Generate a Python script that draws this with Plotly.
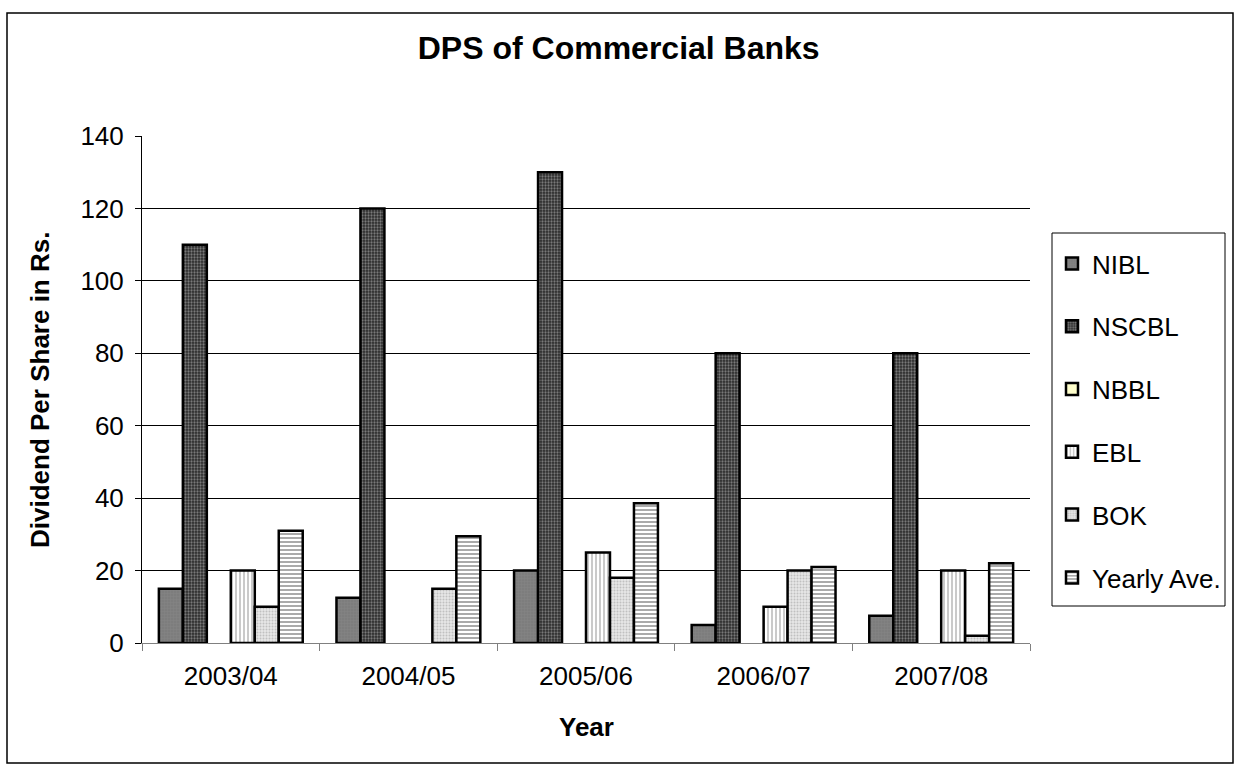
import plotly.graph_objects as go

years = ["2003/04", "2004/05", "2005/06", "2006/07", "2007/08"]
nibl = [15, 12.5, 20, 5, 7.5]
nscbl = [110, 120, 130, 80, 80]
nbbl = [0, 0, 0, 0, 0]
ebl = [20, 0, 25, 10, 20]
bok = [10, 15, 18, 20, 2]
yearly_ave = [31, 29.5, 38.6, 21, 22]
y_ticks = [0, 20, 40, 60, 80, 100, 120, 140]

FONT = "Liberation Sans, Arial, sans-serif"

series = [
    ("NIBL", nibl, dict(color="#808080", pattern=dict(shape=".", bgcolor="#7a7a7a", fgcolor="#8c8c8c", size=3, solidity=0.5))),
    ("NSCBL", nscbl, dict(color="#333333", pattern=dict(shape=".", bgcolor="#2a2a2a", fgcolor="#c8c8c8", size=3, solidity=0.45))),
    ("NBBL", nbbl, dict(color="#FFFFCC")),
    ("EBL", ebl, dict(color="#ffffff", pattern=dict(shape="|", bgcolor="#ffffff", fgcolor="#8a8a8a", size=4, solidity=0.45))),
    ("BOK", bok, dict(color="#d8d8d8", pattern=dict(shape=".", bgcolor="#e6e6e6", fgcolor="#9a9a9a", size=3, solidity=0.35))),
    ("Yearly Ave.", yearly_ave, dict(color="#ffffff", pattern=dict(shape="-", bgcolor="#ffffff", fgcolor="#555555", size=4, solidity=0.5))),
]

fig = go.Figure()
for i, (name, vals, marker) in enumerate(series):
    widths = [0 if v == 0 else 2.5 for v in vals]
    m = dict(marker)
    m["line"] = dict(color="#000000", width=widths)
    legend_from_bars = widths[0] > 0
    og = "g%d" % i
    fig.add_trace(go.Bar(name=name, x=years, y=vals, marker=m, legendgroup=name,
                         offsetgroup=og, showlegend=legend_from_bars))
    if not legend_from_bars:
        lm = dict(marker)
        lm["line"] = dict(color="#000000", width=2.5)
        fig.add_trace(go.Bar(name=name, x=[None], y=[None], marker=lm, legendgroup=name,
                             offsetgroup=og, showlegend=True, hoverinfo="skip"))

W, H = 1241, 769
L, R, T, B = 142, 211, 136, 126
pw, ph = W - L - R, H - T - B

def px_x(x):
    return (x - L) / pw

def px_y(y):
    return (H - B - y) / ph

fig.update_layout(
    width=W, height=H,
    margin=dict(l=L, r=R, t=T, b=B, pad=0),
    paper_bgcolor="#ffffff", plot_bgcolor="#ffffff",
    font=dict(family=FONT, size=26, color="#000000"),
    barmode="group", bargap=0.19, bargroupgap=0,
    title=dict(text="<b>DPS of Commercial Banks</b>", x=618.7 / W, xanchor="center",
               y=1 - 48 / H, yanchor="middle", font=dict(size=32, family=FONT)),
    legend=dict(x=px_x(1052), y=px_y(240), xanchor="left", yanchor="top",
                borderwidth=0, bgcolor="rgba(0,0,0,0)",
                font=dict(size=26, family=FONT), tracegroupgap=26,
                itemwidth=30, traceorder="grouped"),
    showlegend=True,
)

fig.update_xaxes(
    type="category", showline=True, linecolor="#808080", linewidth=1,
    ticks="outside", tickson="boundaries", ticklen=7, tickcolor="#808080",
    showgrid=False, ticklabelstandoff=10,
    tickfont=dict(size=26, family=FONT),
)
fig.update_yaxes(
    range=[0, 140], tickvals=y_ticks, showline=True, linecolor="#000000", linewidth=1,
    ticks="outside", ticklen=6, tickcolor="#000000",
    showgrid=True, gridcolor="#000000", gridwidth=1, zeroline=False,
    tickfont=dict(size=26, family=FONT), ticklabelstandoff=6,
)

fig.add_annotation(text="<b>Year</b>", xref="paper", yref="paper",
                   x=px_x(586), y=px_y(727), xanchor="center", yanchor="middle",
                   showarrow=False, font=dict(size=26, family=FONT))
fig.add_annotation(text="<b>Dividend Per Share in Rs.</b>", xref="paper", yref="paper",
                   x=px_x(40), y=px_y(390), xanchor="center", yanchor="middle",
                   textangle=-90, showarrow=False, font=dict(size=26, family=FONT))

# outer chart border
fig.add_shape(type="rect", xref="paper", yref="paper",
              x0=px_x(7), x1=px_x(1233), y0=px_y(763), y1=px_y(13),
              line=dict(color="#000000", width=1.5), fillcolor="rgba(0,0,0,0)", layer="below")
# legend box border
fig.add_shape(type="rect", xref="paper", yref="paper",
              x0=px_x(1052), x1=px_x(1225), y0=px_y(606), y1=px_y(233),
              line=dict(color="#000000", width=1), fillcolor="#ffffff", layer="below")

fig.write_html("out.html")
